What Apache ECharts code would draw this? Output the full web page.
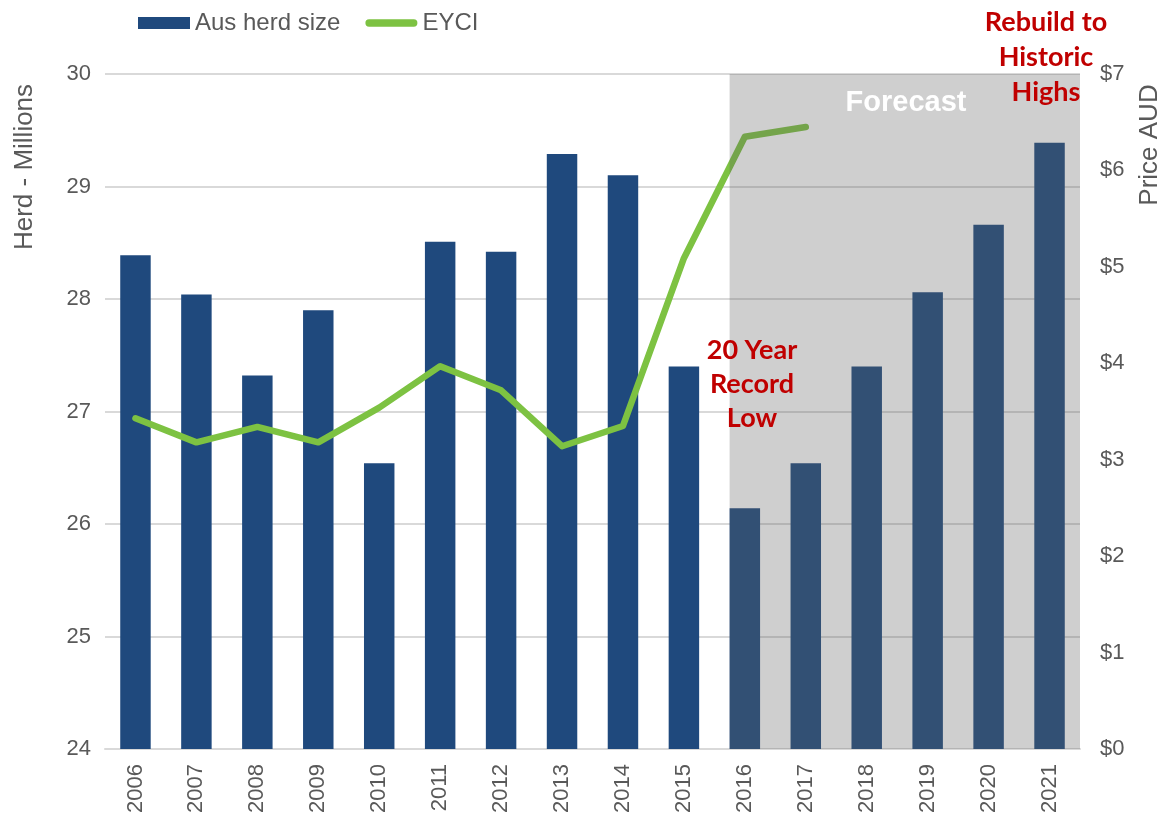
<!DOCTYPE html>
<html><head><meta charset="utf-8">
<script src="https://cdn.jsdelivr.net/npm/echarts@6/dist/echarts.min.js"></script>
<style>html,body{margin:0;padding:0;background:#fff}#c{width:1163px;height:819px}</style>
</head><body><div id="c"></div>
<script>
const years = ['2006','2007','2008','2009','2010','2011','2012','2013','2014','2015','2016','2017','2018','2019','2020','2021'];
const herdSize = [28.39,28.04,27.32,27.90,26.54,28.51,28.42,29.29,29.10,27.40,26.14,26.54,27.40,28.06,28.66,29.39];
const eyci = [3.43,3.18,3.34,3.18,3.54,3.97,3.72,3.14,3.35,5.09,6.35,6.45,null,null,null,null];
const forecastStart = 10.25; // position on category scale where shading begins
const herdTicks = [24,25,26,27,28,29,30];
const priceTicks = [0,1,2,3,4,5,6,7];

const chart = echarts.init(document.getElementById('c'));
const F = 'Liberation Sans, Arial, sans-serif';
chart.setOption({
  animation:false,
  textStyle:{fontFamily:F},
  grid:{left:105,right:83,top:74,bottom:70},
  legend:{
    top:6,left:133,itemWidth:52,itemHeight:12,itemGap:25,
    textStyle:{fontSize:24,color:'#595959',fontFamily:F},
    data:[{name:'Aus herd size',icon:'rect'},
          {name:'EYCI',icon:'path://M4,0 L52,0 A4,4 0 0 1 52,8 L4,8 A4,4 0 0 1 4,0 Z'}]
  },
  xAxis:[{
    type:'category',data:years,
    axisLine:{lineStyle:{color:'#d9d9d9',width:2}},
    axisTick:{show:false},
    axisLabel:{rotate:90,fontSize:22,color:'#595959',margin:15}
  },{
    type:'value',min:0,max:16,show:false
  }],
  yAxis:[{
    type:'value',min:herdTicks[0],max:herdTicks[herdTicks.length-1],interval:1,
    axisLine:{show:false},axisTick:{show:false},
    axisLabel:{fontSize:22,color:'#595959',margin:14},
    splitLine:{lineStyle:{color:'#d9d9d9',width:2}}
  },{
    type:'value',min:priceTicks[0],max:priceTicks[priceTicks.length-1],interval:1,
    axisLine:{show:false},axisTick:{show:false},
    axisLabel:{fontSize:22,color:'#595959',margin:20,formatter:v=>'$'+v},
    splitLine:{show:false}
  }],
  series:[{
    name:'Aus herd size',type:'bar',data:herdSize,barWidth:'50%',
    itemStyle:{color:'#1f497d'},z:2
  },{
    name:'EYCI',type:'line',yAxisIndex:1,data:eyci,
    showSymbol:false,symbol:'none',
    lineStyle:{color:'#7dc242',width:6.5,cap:'round',join:'round'},
    itemStyle:{color:'#7dc242'},z:2
  },{
    name:'forecast',type:'line',xAxisIndex:1,yAxisIndex:0,
    data:[[0,24]],showSymbol:false,symbol:'none',lineStyle:{opacity:0},
    silent:true,z:10,
    markArea:{silent:true,z:10,itemStyle:{color:'rgba(95,95,95,0.3)'},
      data:[[{xAxis:forecastStart},{xAxis:16}]]}
  }],
  graphic:[
    {type:'text',z:100,x:906,y:103,style:{text:'Forecast',font:'bold 29px '+F,fill:'#ffffff',align:'center',verticalAlign:'middle'}},
    {type:'text',z:100,x:752,y:384,style:{text:'20 Year\nRecord\nLow',font:'bold 27px Lato, Liberation Sans',fill:'#c00000',align:'center',verticalAlign:'middle',lineHeight:34}},
    {type:'text',z:100,x:1046,y:57,style:{text:'Rebuild to\nHistoric\nHighs',font:'bold 27px Lato, Liberation Sans',fill:'#c00000',align:'center',verticalAlign:'middle',lineHeight:35}},
    {type:'text',z:100,x:25,y:167,rotation:Math.PI/2,style:{text:'Herd - Millions',font:'26px '+F,fill:'#595959',align:'center',verticalAlign:'middle'}},
    {type:'text',z:100,x:1150,y:145,rotation:Math.PI/2,style:{text:'Price AUD',font:'26px '+F,fill:'#595959',align:'center',verticalAlign:'middle'}}
  ]
});
</script></body></html>
